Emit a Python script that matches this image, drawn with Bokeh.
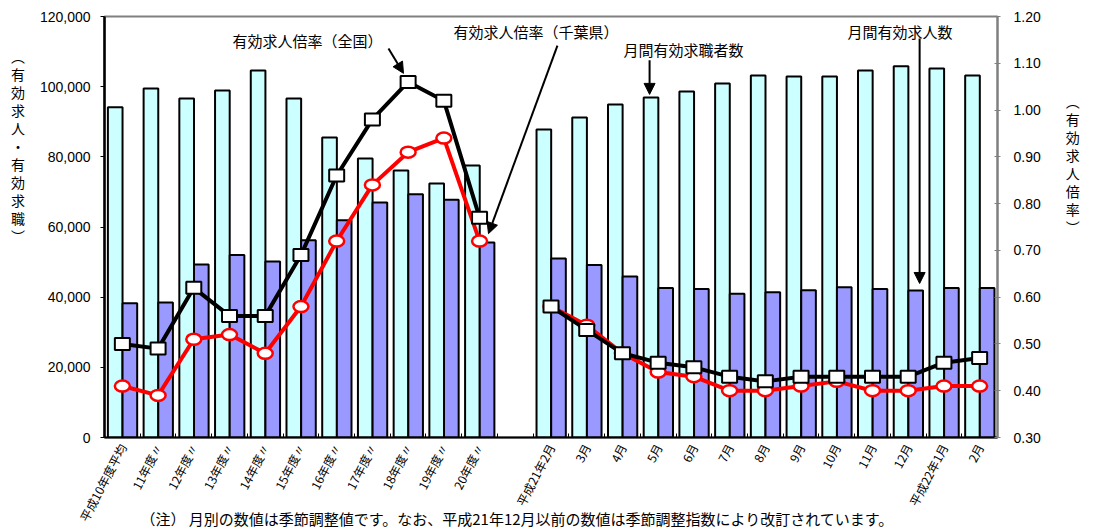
import math
from bokeh.plotting import figure
from bokeh.models import (Range1d, LinearAxis, FixedTicker, NumeralTickFormatter,
                          Label, Arrow, NormalHead)
from bokeh.embed import file_html
from bokeh.resources import INLINE

categories = ["平成10年度平均", "11年度〃", "12年度〃", "13年度〃", "14年度〃", "15年度〃",
              "16年度〃", "17年度〃", "18年度〃", "19年度〃", "20年度〃", "",
              "平成21年2月", "3月", "4月", "5月", "6月", "7月", "8月", "9月", "10月",
              "11月", "12月", "平成22年1月", "2月"]

# 月間有効求職者数 (cyan)
seekers = [94100, 99500, 96600, 98900, 104600, 96600, 85500, 79500, 76100, 72400, 77500, None,
           87800, 91200, 94900, 96900, 98600, 100900, 103200, 102900, 102900, 104600, 105800, 105200, 103200]
# 月間有効求人数 (blue)
openings = [38300, 38500, 49300, 52000, 50200, 56200, 61900, 67000, 69300, 67800, 55600, None,
            51000, 49200, 45900, 42600, 42300, 41000, 41400, 42000, 42800, 42300, 41900, 42600, 42600]
# 有効求人倍率（全国）
ratio_national = [0.50, 0.49, 0.62, 0.56, 0.56, 0.69, 0.86, 0.98, 1.06, 1.02, 0.77, None,
                  0.58, 0.53, 0.48, 0.46, 0.45, 0.43, 0.42, 0.43, 0.43, 0.43, 0.43, 0.46, 0.47]
# 有効求人倍率（千葉県）
ratio_chiba = [0.41, 0.39, 0.51, 0.52, 0.48, 0.58, 0.72, 0.84, 0.91, 0.94, 0.72, None,
               0.58, 0.54, 0.48, 0.44, 0.43, 0.40, 0.40, 0.41, 0.42, 0.40, 0.40, 0.41, 0.41]

left_ticks = [0, 20000, 40000, 60000, 80000, 100000, 120000]
right_ticks = [0.30, 0.40, 0.50, 0.60, 0.70, 0.80, 0.90, 1.00, 1.10, 1.20]
left_title = "（有効求人・有効求職）"
right_title = "（有効求人倍率）"
note = "（注） 月別の数値は季節調整値です。なお、平成21年12月以前の数値は季節調整指数により改訂されています。"

FONT = "Noto Sans CJK JP"
NUMFONT = "Liberation Sans"
SP = "\u3000"

def nan(v):
    return [float("nan") if a is None else a for a in v]

def vertical(s, pad):
    s = s.replace("（", "︵").replace("）", "︶")
    return "\n".join(list(s) + [SP] * pad)

idx = list(range(len(categories)))
bar_idx = [i for i in idx if seekers[i] is not None]

p = figure(width=1093, height=532, x_range=Range1d(-0.5, 24.5), y_range=Range1d(0, 120000),
           output_backend="svg", toolbar_location=None, title=None,
           min_border_left=104, min_border_right=96, min_border_top=16, min_border_bottom=95)
p.background_fill_color = "white"
p.border_fill_color = "white"
p.outline_line_color = "#808080"
p.outline_line_width = 2
p.xgrid.visible = False
p.ygrid.visible = False

p.extra_y_ranges = {"r": Range1d(0.30, 1.20)}

# bars
p.vbar(x=[i - 0.2 for i in bar_idx], top=[seekers[i] for i in bar_idx], width=0.41,
       fill_color="#CCFFFF", line_color="black", line_width=2)
p.vbar(x=[i + 0.21 for i in bar_idx], top=[openings[i] for i in bar_idx], width=0.41,
       fill_color="#9999FF", line_color="black", line_width=2)

# Chiba line
p.line(idx, nan(ratio_chiba), y_range_name="r", line_color="#FF0000", line_width=4)
p.ellipse([i for i in idx if ratio_chiba[i] is not None],
          [ratio_chiba[i] for i in idx if ratio_chiba[i] is not None],
          width=15, height=11, width_units="screen", height_units="screen",
          y_range_name="r", fill_color="white", line_color="#FF0000", line_width=2.5)
# National line
p.line(idx, nan(ratio_national), y_range_name="r", line_color="black", line_width=4)
p.rect([i for i in idx if ratio_national[i] is not None],
       [ratio_national[i] for i in idx if ratio_national[i] is not None],
       width=15, height=12, width_units="screen", height_units="screen",
       y_range_name="r", fill_color="white", line_color="black", line_width=2)

# x axis
xa = p.xaxis[0]
xa.ticker = FixedTicker(ticks=[i for i in idx if categories[i]],
                        minor_ticks=[i - 0.5 for i in range(len(categories) + 1)])
xa.major_label_overrides = {i: categories[i] for i in idx if categories[i]}
xa.major_label_orientation = 1.09
xa.major_label_text_font = FONT
xa.major_label_text_font_size = "12px"
xa.major_label_text_color = "black"
xa.major_label_standoff = 7
xa.major_tick_line_color = None
xa.major_tick_out = 0
xa.major_tick_in = 0
xa.minor_tick_in = 4
xa.minor_tick_out = 0
xa.minor_tick_line_color = "black"
xa.axis_line_color = "black"
xa.axis_line_width = 2
# footnote under the category labels
xa.axis_label = note + SP * 5
xa.axis_label_text_font = FONT
xa.axis_label_text_font_size = "15px"
xa.axis_label_text_font_style = "normal"
xa.axis_label_text_color = "black"
xa.axis_label_standoff = -23

# left axis
ya = p.yaxis[0]
ya.ticker = FixedTicker(ticks=left_ticks, minor_ticks=[])
ya.formatter = NumeralTickFormatter(format="0,0")
ya.major_label_text_font = NUMFONT
ya.major_label_text_font_size = "14px"
ya.major_label_text_color = "black"
ya.major_tick_out = 4
ya.major_tick_in = 0
ya.major_label_standoff = 10
ya.axis_line_color = "black"
ya.axis_line_width = 2.5
ya.minor_tick_line_color = None

# right axis
ra = LinearAxis(y_range_name="r", ticker=FixedTicker(ticks=right_ticks, minor_ticks=[]),
                formatter=NumeralTickFormatter(format="0.00"))
ra.major_label_text_font = NUMFONT
ra.major_label_text_font_size = "14px"
ra.major_label_text_color = "black"
ra.major_tick_out = 3
ra.major_tick_in = 3
ra.major_tick_line_color = "#808080"
ra.major_label_standoff = 13
ra.axis_line_color = "#808080"
ra.axis_line_width = 2
ra.minor_tick_line_color = None
p.add_layout(ra, "right")

# axis titles written vertically
for ax, t, so, pad in ((ya, left_title, 12, 9), (ra, right_title, 22, 7)):
    ax.axis_label = vertical(t, pad)
    ax.axis_label_text_font = FONT
    ax.axis_label_text_font_size = "14px"
    ax.axis_label_text_font_style = "normal"
    ax.axis_label_text_color = "black"
    ax.axis_label_standoff = so
    try:
        ax.axis_label_orientation = "horizontal"
    except Exception:
        pass
    try:
        ax.axis_label_text_line_height = 0.9
    except Exception:
        pass

# annotations
ann = [("有効求人倍率（全国）", 3.08, 113200),
       ("有効求人倍率（千葉県）", 9.27, 115700),
       ("月間有効求職者数", 14.03, 110600),
       ("月間有効求人数", 20.3, 115700)]
for t, x, y in ann:
    p.add_layout(Label(x=x, y=y, text=t, text_font=FONT, text_font_size="15px",
                       text_align="left", text_baseline="middle", text_color="black"))

arrows = [(7.45, 110900, 7.87, 103800),
          (12.18, 111700, 10.25, 58100),
          (14.76, 107500, 14.76, 97800),
          (22.32, 113700, 22.32, 43900)]
for xs, ys, xe, ye in arrows:
    p.add_layout(Arrow(end=NormalHead(size=11, fill_color="black", line_color="black"),
                       x_start=xs, y_start=ys, x_end=xe, y_end=ye,
                       line_color="black", line_width=2))

open("out.html", "w").write(file_html(p, INLINE))
